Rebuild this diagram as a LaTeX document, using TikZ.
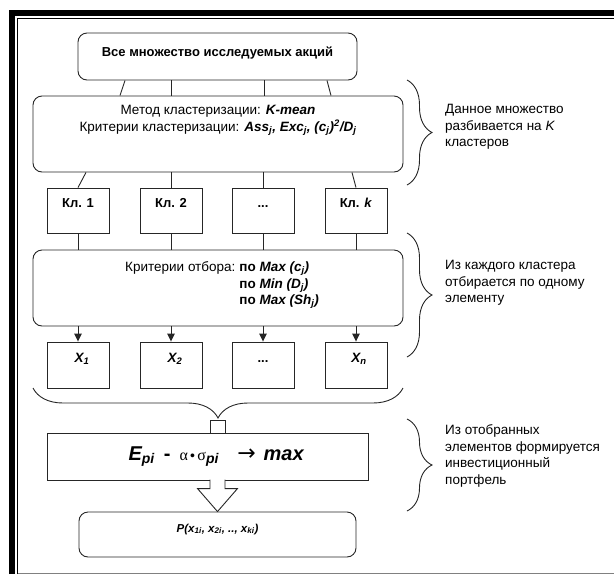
\documentclass[tikz,border=0pt]{standalone}
\usepackage{fontspec}
\setmainfont{Liberation Sans}
\newfontfamily\greekfont{Liberation Serif}
\newfontfamily\arrowfont{DejaVu Sans}
\usetikzlibrary{arrows.meta,decorations.pathreplacing,calc}
\newcommand{\nsize}{\fontsize{13.5}{16.5}\selectfont}
\newcommand{\bsize}{\fontsize{13}{16}\selectfont}
\newcommand{\lowi}[1]{\textsubscript{#1}}
\newcommand{\bfit}[1]{\textbf{\textit{#1}}}

\begin{document}
\begin{tikzpicture}[x=1pt,y=-1pt]
        \tikzstyle{every node}+=[inner sep=0pt, font=\nsize]
        \tikzstyle{roundbox}=[draw=black!85, line width=0.9pt, rounded corners=9pt]
        \tikzstyle{sqbox}=[draw=black!85, line width=0.9pt]
        \tikzstyle{hightext}=[text height=9pt, text depth=15pt]
        \tikzstyle{link}=[draw=black!85, line width=0.9pt]
        \tikzstyle{arrow}=[link, -{Triangle[width=7.5pt,length=8pt]}]
        \tikzstyle{brace}=[link, decorate, decoration={brace, amplitude=25pt}]
        \useasboundingbox (0,0) rectangle (614,574);
        % frame
        \draw [line width=6pt] (12,574) -- (12,13) -- (614,13);
        \draw [line width=0.8pt] (17.5,574) -- (17.5,18.5) -- (614,18.5);
        \draw [gray, line width=1pt] (17.5,573) -- (614,573);
        % top part
        \node [roundbox, minimum width=279, minimum height=47, text height=9pt, text depth=9pt, font=\bfseries\bsize] (all) at (217.5,56.5) {Все множество исследуемых акций};
        \node [roundbox, minimum width=370, minimum height=76] (meth) at (218,134) {};
        \node [align=center] (methtxt) at ($(meth.north)+(0,25)$) {Метод кластеризации: \bfit{K-mean}\\
                Критерии кластеризации: \bfit{Ass\lowi{j}, Exc\lowi{j}, (c\lowi{j})\textsuperscript{2}/D\lowi{j}}};
        \foreach \a/\b in {-92.5/-98, -46.5/-47, 46.5/46, 109.5/113}
                \draw [link] ([xshift=\a]all.south) -- ([xshift=\b]meth.north);
        % clusters
        \node [sqbox, hightext, minimum width=62, minimum height=45, font=\bfseries\bsize] (k1) at (78,210.5) {Кл. 1};
        \node [sqbox, hightext, minimum width=62, minimum height=45, font=\bfseries\bsize] (k2) at (171,210.5) {Кл. 2};
        \node [sqbox, hightext, minimum width=62, minimum height=45, font=\bfseries\bsize] (k3) at (263,210.5) {...};
        \node [sqbox, hightext, minimum width=62, minimum height=45, font=\bfseries\bsize] (k4) at (356,210.5) {Кл. \textit{k}};
        \draw [link] ([xshift=-132]meth.south) -- (k1.north);
        \draw [link] (meth.south -| k2.north) -- (k2.north);
        \draw [link] (meth.south -| k3.north) -- (k3.north);
        \draw [link] ([xshift=134]meth.south) -- (k4.north);
        % selection
        \node [roundbox, minimum width=370, minimum height=76] (sel) at (218,288) {};
        \node [anchor=west] (seltxt) at (125,285) {\renewcommand{\arraystretch}{1}%
                \begin{tabular}{@{}r@{\hspace{4pt}}l@{}}
                Критерии отбора: & \textbf{по \textit{Max (c\lowi{j})}}\\
                 & \textbf{по \textit{Min (D\lowi{j})}}\\
                 & \textbf{по \textit{Max (Sh\lowi{j})}}
                \end{tabular}};
        \draw [link] (k1.south) -- (k1.south |- sel.north);
        \draw [link] (k2.south) -- (k2.south |- sel.north);
        \draw [link] (k3.south) -- (k3.south |- sel.north);
        \draw [link] (k4.south) -- (k4.south |- sel.north);
        % selected elements
        \node [sqbox, hightext, minimum width=62, minimum height=46] (x1) at (78,365) {\hspace{8pt}\bfit{X\lowi{1}}};
        \node [sqbox, hightext, minimum width=62, minimum height=46] (x2) at (171,365) {\hspace{8pt}\bfit{X\lowi{2}}};
        \node [sqbox, hightext, minimum width=62, minimum height=46, font=\bfseries\bsize] (x3) at (263,365) {...};
        \node [sqbox, hightext, minimum width=62, minimum height=46] (xn) at (356,365) {\hspace{6pt}\bfit{X\lowi{n}}};
        \draw [arrow] (sel.south -| x1.north) -- (x1.north);
        \draw [arrow] (sel.south -| x2.north) -- (x2.north);
        \draw [arrow] (sel.south -| x3.north) -- (x3.north);
        \draw [arrow] (sel.south -| xn.north) -- (xn.north);
        \draw [link, decorate, decoration={brace, amplitude=30pt}] (403,388) -- (33,388);
        \coordinate (btip) at (218,418);
        % portfolio
        \node [sqbox, minimum width=321, minimum height=47, font=\fontsize{20}{24}\selectfont] (ebox) at (207.5,456.5)
                {\hspace{18pt}\bfit{E\lowi{pi}}\hspace{9pt}\textbf{-}\hspace{9pt}{\greekfont\fontsize{16}{20}\selectfont α}{\fontsize{14}{14}\selectfont\,•\,}{\greekfont\fontsize{16}{20}\selectfont σ}\lowi{\bfit{pi}}\hspace{18pt}{\arrowfont\fontsize{22}{24}\selectfont →}\hspace{8pt}\bfit{max}};
        \draw [link, fill=white] ($(btip)+(-7.5,2)$) rectangle ($(btip)+(7.5,15)$);
        \node [roundbox, minimum width=277, minimum height=45, text height=8pt, text depth=13pt, font=\fontsize{11.5}{13}\selectfont] (pbox) at (217.5,534.5)
                {\bfit{P(x\lowi{1i}, x\lowi{2i}, .., x\lowi{ki})}};
        \draw [link, fill=white] ($(pbox.north)+(-7.5,-32)$) -- ++(0,9) -- ++(-12.5,0) -- (pbox.north) -- ++(20,-23) -- ++(-12.5,0) -- ++(0,-9);
        % comments on the right
        \draw [brace] (407,80) -- (407,185);
        \node [anchor=west, align=left] (note1) at (445,127) {Данное множество\\разбивается на \textit{K}\\кластеров};
        \draw [brace] (407,233) -- (407,357);
        \node [anchor=west, align=left] (note2) at (445,283) {Из каждого кластера\\отбирается по одному\\элементу};
        \draw [brace] (407,419) -- (407,511);
        \node [anchor=west, align=left] (note3) at (445,456) {Из отобранных\\элементов формируется\\инвестиционный\\портфель};
\end{tikzpicture}
\end{document}
